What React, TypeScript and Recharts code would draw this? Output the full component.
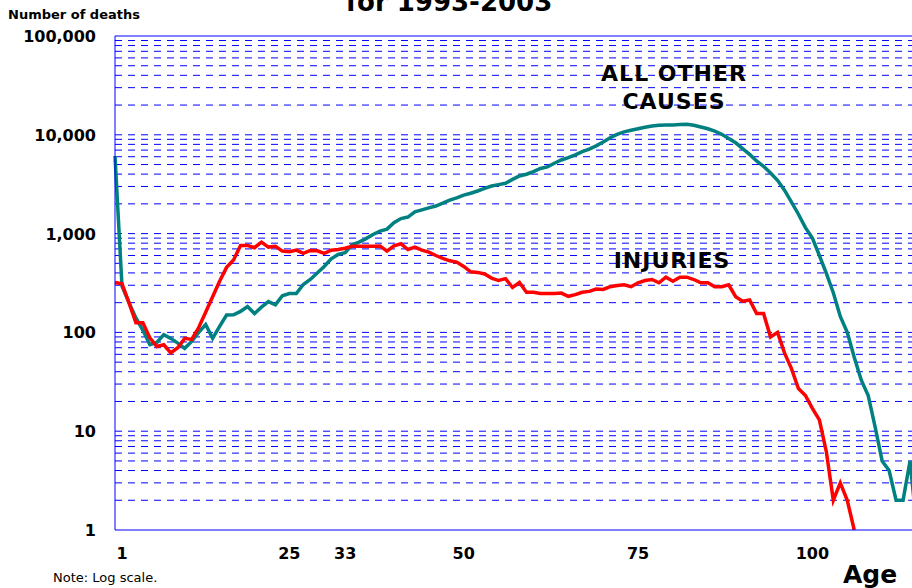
import React from 'react';
import { LineChart, Line, XAxis, YAxis, CartesianGrid, ReferenceLine } from 'recharts';

// age 0..115
const ages: number[] = Array.from({ length: 116 }, (_, i) => i);

const allOtherCauses: number[] = [
  6100, 295, 200, 140, 105, 75, 79, 95, 87, 78,
  69, 81, 100, 120, 87, 115, 150, 151, 163, 183,
  155, 180, 205, 190, 235, 247, 247, 305, 343, 400,
  465, 555, 615, 640, 770, 820, 890, 980, 1060, 1110,
  1290, 1420, 1470, 1660, 1740, 1820, 1900, 2030, 2180, 2300,
  2450, 2560, 2700, 2870, 3030, 3130, 3230, 3540, 3830, 3990,
  4250, 4560, 4730, 5150, 5560, 5880, 6270, 6740, 7150, 7720,
  8450, 9350, 10100, 10700, 11100, 11500, 11900, 12300, 12500, 12600,
  12600, 12700, 12800, 12500, 12000, 11500, 10900, 10100, 9150, 8300,
  7250, 6330, 5430, 4800, 4100, 3460, 2750, 2080, 1570, 1150,
  900, 600, 395, 252, 145, 100, 56, 33, 23, 11,
  5, 4, 2, 2, 5, 1,
];

const injuries: (number | null)[] = [
  320, 310, 200, 125, 125, 88, 72, 75, 62, 70,
  87, 85, 112, 160, 230, 330, 455, 540, 760, 760,
  720, 820, 730, 745, 665, 655, 680, 630, 675, 670,
  630, 680, 690, 710, 745, 745, 745, 745, 750, 665,
  750, 790, 690, 730, 680, 650, 600, 560, 530, 515,
  465, 410, 405, 390, 355, 335, 350, 285, 320, 255,
  255, 248, 248, 248, 250, 232, 241, 255, 260, 275,
  272, 290, 298, 303, 290, 318, 335, 343, 318, 362,
  330, 362, 362, 343, 318, 318, 290, 290, 303, 230,
  207, 213, 155, 155, 90, 100, 62, 43, 27, 23,
  17, 13, 6.2, 2, 3, 2, 1, null, null, null,
  null, null, null, null, null, null,
];

const xTicks = [1, 25, 33, 50, 75, 100];
const yTicks = [1, 10, 100, 1000, 10000, 100000];
const decades = [1, 10, 100, 1000, 10000];
const multipliers = [1, 2, 3, 4, 5, 6, 7, 8, 9];

const gridValues = decades
  .flatMap((d) => multipliers.map((m) => m * d))
  .filter((v) => v > 1);

const data = ages.map((age, i) => ({
  age,
  other: allOtherCauses[i],
  injuries: injuries[i],
}));

const FONT = "'DejaVu Sans', Verdana, sans-serif";

const YTick = (props: any) => {
  const { x, y, payload } = props;
  return (
    <text x={x} y={y} dy={6} textAnchor="end" fontFamily={FONT} fontWeight="bold" fontSize={16} fill="#000">
      {Number(payload.value).toLocaleString('en-US')}
    </text>
  );
};

const XTick = (props: any) => {
  const { x, y, payload } = props;
  return (
    <text x={x} y={y} dy={29} textAnchor="middle" fontFamily={FONT} fontWeight="bold" fontSize={16} fill="#000">
      {payload.value}
    </text>
  );
};

const App: React.FC = () => {
  return (
    <div style={{ position: 'absolute', left: 0, top: 0, width: 912, height: 588, overflow: 'hidden', background: '#fff' }}>
      <LineChart width={917} height={588} data={data} margin={{ top: 36, right: 0, left: 0, bottom: 28 }}>
        <CartesianGrid horizontalValues={gridValues} vertical={false} stroke="#0000ff" strokeDasharray="7 6" />
        <ReferenceLine y={100000} stroke="#0000ff" />
        <XAxis
          dataKey="age"
          type="number"
          domain={[0, 115]}
          ticks={xTicks}
          interval={0}
          height={30}
          tickLine={false}
          tickSize={0}
          tickMargin={0}
          axisLine={{ stroke: '#0000ff' }}
          tick={<XTick />}
        />
        <YAxis
          scale="log"
          domain={[1, 100000]}
          ticks={yTicks}
          interval={0}
          allowDataOverflow
          width={115}
          tickLine={false}
          tickSize={0}
          tickMargin={19}
          axisLine={{ stroke: '#0000ff' }}
          tick={<YTick />}
        />
        <Line type="linear" dataKey="other" stroke="#008080" strokeWidth={3.5} dot={false} isAnimationActive={false} />
        <Line type="linear" dataKey="injuries" stroke="#ff0000" strokeWidth={3.5} dot={false} isAnimationActive={false} />
      </LineChart>
      <svg width={912} height={588} style={{ position: 'absolute', left: 0, top: 0, pointerEvents: 'none' }}>
        <text x={449} y={11} textAnchor="middle" fontFamily={FONT} fontWeight="bold" fontSize={26} fill="#000">
          for 1993-2003
        </text>
        <text x={8} y={19} fontFamily={FONT} fontWeight="bold" fontSize={13} fill="#000">
          Number of deaths
        </text>
        <text x={674} y={81} textAnchor="middle" fontFamily={FONT} fontWeight="bold" fontSize={22} letterSpacing={1} fill="#000">
          ALL OTHER
        </text>
        <text x={674} y={109} textAnchor="middle" fontFamily={FONT} fontWeight="bold" fontSize={22} letterSpacing={1} fill="#000">
          CAUSES
        </text>
        <text x={672} y={268} textAnchor="middle" fontFamily={FONT} fontWeight="bold" fontSize={22} letterSpacing={1} fill="#000">
          INJURIES
        </text>
        <text x={53} y={582} fontFamily={FONT} fontSize={13} fill="#000">
          Note: Log scale.
        </text>
        <text x={843} y={583} fontFamily={FONT} fontWeight="bold" fontSize={25} fill="#000">
          Age
        </text>
      </svg>
    </div>
  );
};

export default App;
